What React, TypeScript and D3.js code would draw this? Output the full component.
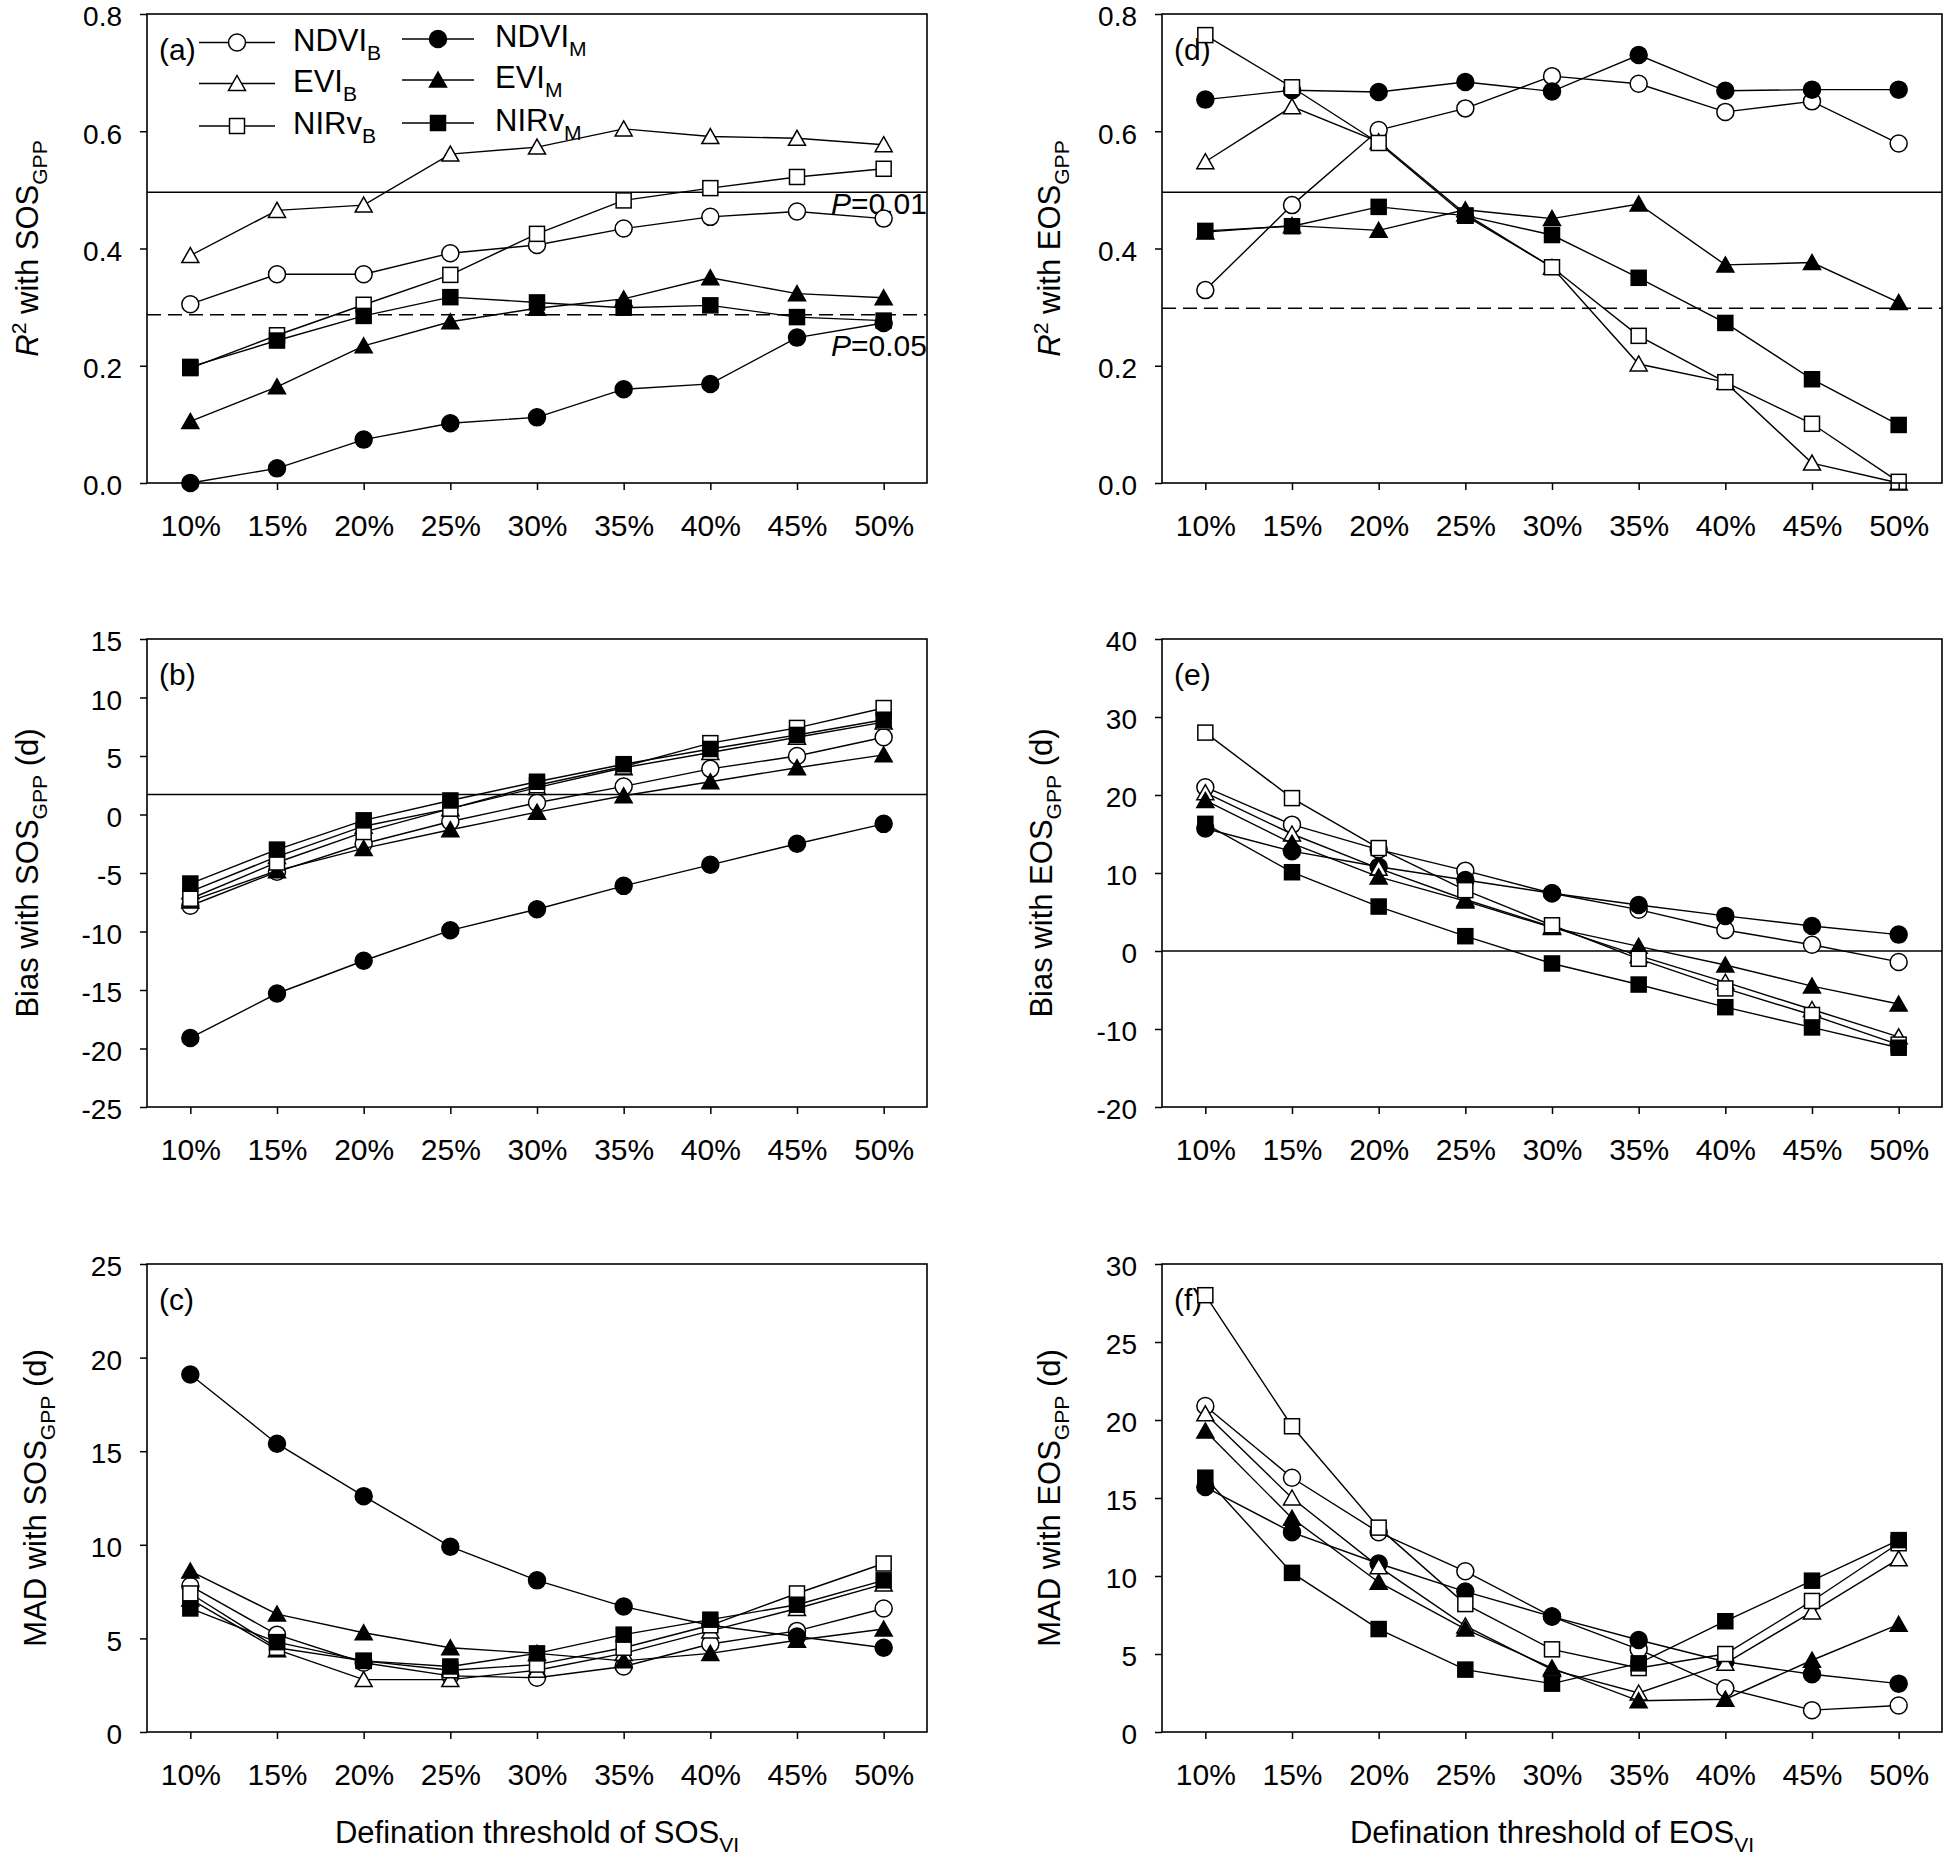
import React, { useEffect, useRef } from "react"
import * as d3 from "d3"

const W = 1946
const H = 1859
const FONT = "'Liberation Sans', Arial, Helvetica, sans-serif"
const FS = 30
const FS_Y = 28

const THRESHOLDS = ["10%", "15%", "20%", "25%", "30%", "35%", "40%", "45%", "50%"]

// series order: NDVI_B, NDVI_M, EVI_B, EVI_M, NIRv_B, NIRv_M
const SERIES_NAMES = ["NDVI", "NDVI", "EVI", "EVI", "NIRv", "NIRv"]
const SERIES_SUBS = ["B", "M", "B", "M", "B", "M"]

// (a) R2 with SOS_GPP
const sosR2NdviB = [0.305, 0.356, 0.356, 0.392, 0.406, 0.434, 0.454, 0.463, 0.451]
const sosR2NdviM = [0.0, 0.025, 0.074, 0.102, 0.112, 0.16, 0.169, 0.248, 0.273]
const sosR2EviB = [0.388, 0.465, 0.474, 0.561, 0.573, 0.604, 0.591, 0.588, 0.577]
const sosR2EviM = [0.105, 0.164, 0.234, 0.275, 0.298, 0.314, 0.35, 0.323, 0.316]
const sosR2NirvB = [0.196, 0.252, 0.304, 0.355, 0.425, 0.482, 0.503, 0.522, 0.536]
const sosR2NirvM = [0.198, 0.243, 0.285, 0.317, 0.308, 0.299, 0.303, 0.283, 0.277]

// (b) Bias with SOS_GPP
const sosBiasNdviB = [-7.8, -4.9, -2.5, -0.6, 1.0, 2.4, 3.9, 5.0, 6.6]
const sosBiasNdviM = [-19.1, -15.3, -12.5, -9.9, -8.1, -6.1, -4.3, -2.5, -0.8]
const sosBiasEviB = [-6.6, -3.6, -1.0, 0.5, 2.3, 4.0, 5.3, 6.6, 7.9]
const sosBiasEviM = [-7.4, -4.8, -2.9, -1.3, 0.2, 1.6, 2.8, 4.0, 5.1]
const sosBiasNirvB = [-7.2, -4.1, -1.5, 0.5, 2.5, 4.1, 6.1, 7.4, 9.1]
const sosBiasNirvM = [-5.9, -3.0, -0.5, 1.2, 2.8, 4.3, 5.6, 6.8, 8.1]

// (c) MAD with SOS_GPP
const sosMadNdviB = [7.8, 5.2, 3.7, 3.0, 2.9, 3.5, 4.7, 5.4, 6.6]
const sosMadNdviM = [19.1, 15.4, 12.6, 9.9, 8.1, 6.7, 5.7, 5.1, 4.5]
const sosMadEviB = [7.1, 4.4, 2.8, 2.8, 3.3, 4.2, 5.4, 6.6, 7.9]
const sosMadEviM = [8.6, 6.3, 5.3, 4.5, 4.2, 3.8, 4.2, 4.9, 5.5]
const sosMadNirvB = [7.4, 4.5, 3.8, 3.3, 3.6, 4.5, 5.7, 7.4, 9.0]
const sosMadNirvM = [6.6, 4.8, 3.8, 3.5, 4.2, 5.2, 6.0, 6.8, 8.1]

// (d) R2 with EOS_GPP
const eosR2NdviB = [0.329, 0.474, 0.602, 0.639, 0.694, 0.681, 0.633, 0.651, 0.579]
const eosR2NdviM = [0.654, 0.67, 0.667, 0.684, 0.668, 0.73, 0.669, 0.671, 0.671]
const eosR2EviB = [0.548, 0.642, 0.582, 0.459, 0.368, 0.203, 0.172, 0.034, 0.0]
const eosR2EviM = [0.428, 0.439, 0.431, 0.466, 0.451, 0.476, 0.372, 0.376, 0.308]
const eosR2NirvB = [0.764, 0.675, 0.58, 0.456, 0.368, 0.251, 0.172, 0.101, 0.002]
const eosR2NirvM = [0.43, 0.438, 0.471, 0.456, 0.423, 0.35, 0.273, 0.177, 0.099]

// (e) Bias with EOS_GPP
const eosBiasNdviB = [21.0, 16.2, 13.0, 10.3, 7.4, 5.3, 2.7, 0.8, -1.4]
const eosBiasNdviM = [15.7, 12.8, 10.8, 9.1, 7.4, 5.9, 4.5, 3.2, 2.1]
const eosBiasEviB = [20.3, 15.0, 10.6, 6.6, 3.1, -0.6, -4.0, -7.5, -11.0]
const eosBiasEviM = [19.3, 13.8, 9.5, 6.4, 3.0, 0.6, -1.8, -4.5, -6.8]
const eosBiasNirvB = [28.0, 19.6, 13.2, 7.8, 3.3, -1.0, -4.8, -8.2, -12.0]
const eosBiasNirvM = [16.3, 10.1, 5.7, 1.9, -1.6, -4.3, -7.2, -9.8, -12.4]

// (f) MAD with EOS_GPP
const eosMadNdviB = [20.9, 16.3, 12.8, 10.3, 7.4, 5.3, 2.8, 1.4, 1.7]
const eosMadNdviM = [15.7, 12.8, 10.8, 9.0, 7.4, 5.9, 4.5, 3.7, 3.1]
const eosMadEviB = [20.4, 15.0, 10.6, 6.8, 4.0, 2.5, 4.4, 7.7, 11.1]
const eosMadEviM = [19.3, 13.7, 9.6, 6.6, 4.1, 2.0, 2.1, 4.6, 6.9]
const eosMadNirvB = [28.0, 19.6, 13.1, 8.2, 5.3, 4.1, 5.0, 8.4, 12.1]
const eosMadNirvM = [16.3, 10.2, 6.6, 4.0, 3.1, 4.4, 7.1, 9.7, 12.3]

const R2_TICKS = [0, 0.2, 0.4, 0.6, 0.8]
const SOS_BIAS_TICKS = [-25, -20, -15, -10, -5, 0, 5, 10, 15]
const EOS_BIAS_TICKS = [-20, -10, 0, 10, 20, 30, 40]
const SOS_MAD_TICKS = [0, 5, 10, 15, 20, 25]
const EOS_MAD_TICKS = [0, 5, 10, 15, 20, 25, 30]

const SHAPES = ["circle", "circle", "triangle", "triangle", "square", "square"]
const FILLED = [false, true, false, true, false, true]

const COLS = [
  { x0: 147, x1: 927 },
  { x0: 1162, x1: 1942 },
]
const ROWS = [
  { y0: 14, y1: 483 },
  { y0: 639, y1: 1107 },
  { y0: 1264, y1: 1732 },
]

type Part = { t: string; kind?: "sub" | "sup"; italic?: boolean }

const fmt1 = (d: number) => d.toFixed(1)
const fmt0 = (d: number) => String(d) // plain hyphen minus, as in the original

const PANELS = [
  {
    tag: "(a)", col: 0, row: 0, ticks: R2_TICKS, fmt: fmt1,
    series: [sosR2NdviB, sosR2NdviM, sosR2EviB, sosR2EviM, sosR2NirvB, sosR2NirvM],
    title: [{ t: "R", italic: true }, { t: "2", kind: "sup" }, { t: " with SOS" }, { t: "GPP", kind: "sub" }] as Part[],
    titleX: 38, solid: 0.496, dashed: 0.287, pLabels: true, legend: true, xTitle: null as Part[] | null,
  },
  {
    tag: "(b)", col: 0, row: 1, ticks: SOS_BIAS_TICKS, fmt: fmt0,
    series: [sosBiasNdviB, sosBiasNdviM, sosBiasEviB, sosBiasEviM, sosBiasNirvB, sosBiasNirvM],
    title: [{ t: "Bias with SOS" }, { t: "GPP", kind: "sub" }, { t: " (d)" }] as Part[],
    titleX: 38, solid: 1.7, dashed: null, pLabels: false, legend: false, xTitle: null,
  },
  {
    tag: "(c)", col: 0, row: 2, ticks: SOS_MAD_TICKS, fmt: fmt0,
    series: [sosMadNdviB, sosMadNdviM, sosMadEviB, sosMadEviM, sosMadNirvB, sosMadNirvM],
    title: [{ t: "MAD with SOS" }, { t: "GPP", kind: "sub" }, { t: " (d)" }] as Part[],
    titleX: 46, solid: null, dashed: null, pLabels: false, legend: false,
    xTitle: [{ t: "Defination threshold of SOS" }, { t: "VI", kind: "sub" }] as Part[],
  },
  {
    tag: "(d)", col: 1, row: 0, ticks: R2_TICKS, fmt: fmt1,
    series: [eosR2NdviB, eosR2NdviM, eosR2EviB, eosR2EviM, eosR2NirvB, eosR2NirvM],
    title: [{ t: "R", italic: true }, { t: "2", kind: "sup" }, { t: " with EOS" }, { t: "GPP", kind: "sub" }] as Part[],
    titleX: 1060, solid: 0.496, dashed: 0.298, pLabels: false, legend: false, xTitle: null,
  },
  {
    tag: "(e)", col: 1, row: 1, ticks: EOS_BIAS_TICKS, fmt: fmt0,
    series: [eosBiasNdviB, eosBiasNdviM, eosBiasEviB, eosBiasEviM, eosBiasNirvB, eosBiasNirvM],
    title: [{ t: "Bias with EOS" }, { t: "GPP", kind: "sub" }, { t: " (d)" }] as Part[],
    titleX: 1052, solid: 0, dashed: null, pLabels: false, legend: false, xTitle: null,
  },
  {
    tag: "(f)", col: 1, row: 2, ticks: EOS_MAD_TICKS, fmt: fmt0,
    series: [eosMadNdviB, eosMadNdviM, eosMadEviB, eosMadEviM, eosMadNirvB, eosMadNirvM],
    title: [{ t: "MAD with EOS" }, { t: "GPP", kind: "sub" }, { t: " (d)" }] as Part[],
    titleX: 1060, solid: null, dashed: null, pLabels: false, legend: false,
    xTitle: [{ t: "Defination threshold of EOS" }, { t: "VI", kind: "sub" }] as Part[],
  },
]

function richText(text: any, parts: Part[], size: number) {
  let shift = 0
  parts.forEach(p => {
    const target = p.kind === "sub" ? size * 0.3 : p.kind === "sup" ? -size * 0.4 : 0
    const ts = text.append("tspan").text(p.t).attr("dy", target - shift)
    if (p.kind) ts.attr("font-size", size * 0.68)
    if (p.italic) ts.attr("font-style", "italic")
    shift = target
  })
}

function marker(g: any, shape: string, filled: boolean, x: number, y: number) {
  const fill = filled ? "#000" : "#fff"
  if (shape === "circle") {
    g.append("circle").attr("cx", x).attr("cy", y).attr("r", 8.5)
      .attr("fill", fill).attr("stroke", "#000").attr("stroke-width", 1.5)
  } else if (shape === "square") {
    g.append("rect").attr("x", x - 7.5).attr("y", y - 7.5).attr("width", 15).attr("height", 15)
      .attr("fill", fill).attr("stroke", "#000").attr("stroke-width", 1.5)
  } else {
    g.append("path")
      .attr("d", `M${x},${y - 8}L${x + 8.5},${y + 7}L${x - 8.5},${y + 7}Z`)
      .attr("fill", fill).attr("stroke", "#000").attr("stroke-width", 1.5)
  }
}

export default function App() {
  const svgRef = useRef<SVGSVGElement | null>(null)

  useEffect(() => {
    const svgEl = svgRef.current
    if (!svgEl) return
    const svg = d3.select(svgEl)
    svg.selectAll("*").remove()
    svg.append("rect").attr("width", W).attr("height", H).attr("fill", "#fff")

    PANELS.forEach(p => {
      const { x0, x1 } = COLS[p.col]
      const { y0, y1 } = ROWS[p.row]
      const ext = d3.extent(p.ticks) as [number, number]
      const x = d3.scalePoint<string>().domain(THRESHOLDS).range([x0, x1]).padding(0.5)
      const y = d3.scaleLinear().domain(ext).range([y1, y0])
      const g = svg.append("g").attr("font-family", FONT)

      // reference lines
      if (p.solid !== null) {
        g.append("line").attr("x1", x0).attr("x2", x1)
          .attr("y1", y(p.solid)).attr("y2", y(p.solid))
          .attr("stroke", "#000").attr("stroke-width", 1.5)
      }
      if (p.dashed !== null) {
        g.append("line").attr("x1", x0).attr("x2", x1)
          .attr("y1", y(p.dashed)).attr("y2", y(p.dashed))
          .attr("stroke", "#000").attr("stroke-width", 1.5).attr("stroke-dasharray", "14,7")
      }
      if (p.pLabels) {
        const t1 = g.append("text").attr("x", x1).attr("y", y(p.solid as number) + 22)
          .attr("text-anchor", "end").attr("font-size", FS)
        richText(t1, [{ t: "P", italic: true }, { t: "=0.01" }], FS)
        const t2 = g.append("text").attr("x", x1).attr("y", y(p.dashed as number) + 41)
          .attr("text-anchor", "end").attr("font-size", FS)
        richText(t2, [{ t: "P", italic: true }, { t: "=0.05" }], FS)
      }

      // panel tag
      g.append("text").attr("x", x0 + 12).attr("y", y0 + 46).attr("font-size", FS).text(p.tag)

      // legend
      if (p.legend) {
        const cols = [
          { lx0: 199, lx1: 275, mx: 237, tx: 293, rows: [42.5, 83.5, 126] },
          { lx0: 402, lx1: 474, mx: 438, tx: 495, rows: [39, 80, 123] },
        ]
        SERIES_NAMES.forEach((name, i) => {
          const c = cols[i % 2]
          const ry = c.rows[Math.floor(i / 2)]
          g.append("line").attr("x1", c.lx0).attr("x2", c.lx1).attr("y1", ry).attr("y2", ry)
            .attr("stroke", "#000").attr("stroke-width", 1.4)
          marker(g, SHAPES[i], FILLED[i], c.mx, ry)
          const t = g.append("text").attr("x", c.tx).attr("y", ry + 8).attr("font-size", FS + 1)
          richText(t, [{ t: name }, { t: SERIES_SUBS[i], kind: "sub" }], FS + 1)
        })
      }

      // series
      const line = d3.line<number>().x((_, i) => x(THRESHOLDS[i]) as number).y(d => y(d))
      p.series.forEach((vals, si) => {
        const sg = g.append("g")
        sg.append("path").attr("d", line(vals)).attr("fill", "none")
          .attr("stroke", "#000").attr("stroke-width", 1.4)
        vals.forEach((v, i) => marker(sg, SHAPES[si], FILLED[si], x(THRESHOLDS[i]) as number, y(v)))
      })

      // frame
      g.append("rect").attr("x", x0).attr("y", y0).attr("width", x1 - x0).attr("height", y1 - y0)
        .attr("fill", "none").attr("stroke", "#000").attr("stroke-width", 1.6)

      // axes
      const ax = g.append("g").attr("transform", `translate(0,${y1})`)
        .call(d3.axisBottom(x).tickSize(7).tickPadding(25).tickSizeOuter(0))
      ax.select(".domain").remove()
      ax.attr("font-size", FS).attr("font-family", FONT)
      ax.selectAll("line").attr("stroke-width", 1.5)

      const ay = g.append("g").attr("transform", `translate(${x0},0)`)
        .call(d3.axisLeft(y).tickValues(p.ticks).tickFormat(p.fmt as any).tickSize(7).tickPadding(18).tickSizeOuter(0))
      ay.select(".domain").remove()
      ay.attr("font-size", FS_Y).attr("font-family", FONT)
      ay.selectAll("text").attr("dy", "0.42em")
      ay.selectAll("line").attr("stroke-width", 1.5)

      // y title
      const tt = g.append("text")
        .attr("transform", `translate(${p.titleX},${(y0 + y1) / 2}) rotate(-90)`)
        .attr("text-anchor", "middle").attr("font-size", FS + 1)
      richText(tt, p.title, FS + 1)

      // x title
      if (p.xTitle) {
        const xt = g.append("text").attr("x", (x0 + x1) / 2).attr("y", 1843)
          .attr("text-anchor", "middle").attr("font-size", FS + 1)
        richText(xt, p.xTitle, FS + 1)
      }
    })
  }, [])

  return (
    <svg
      ref={svgRef}
      width={W}
      height={H}
      style={{ position: "absolute", left: 0, top: 0, display: "block" }}
    />
  )
}
